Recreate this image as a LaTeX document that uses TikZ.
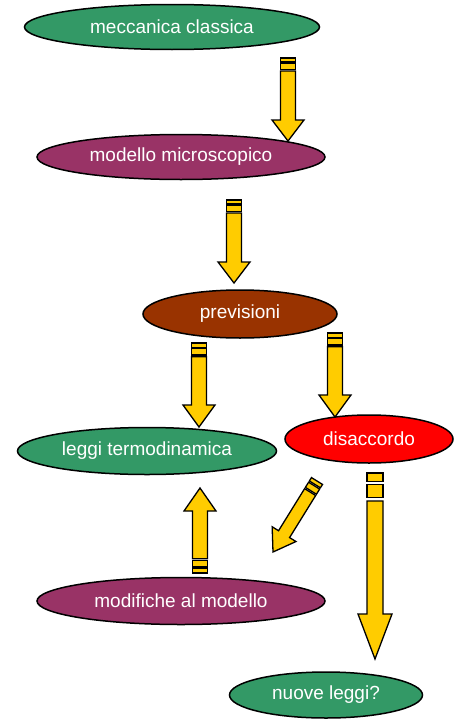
\documentclass[tikz,border=0pt]{standalone}
\usepackage{fontspec}
\setmainfont{Liberation Sans}
\usetikzlibrary{shapes.geometric,calc}

\definecolor{verde}{RGB}{51,153,102}
\definecolor{viola}{RGB}{153,51,102}
\definecolor{marrone}{RGB}{153,51,0}
\definecolor{oro}{RGB}{255,204,0}

% freccia a strisce: coda, punta, mezza larghezza asta, mezza larghezza punta, lunghezza punta
\newcommand{\stripedarrow}[5]{%
    \pgfmathsetmacro\sa{0.19*#5}
    \pgfmathsetmacro\sb{0.26*#5}
    \pgfmathsetmacro\sc{0.55*#5}
    \pgfmathsetmacro\sd{0.62*#5}
    \draw[freccia] ($(#1)!0pt!(#2)!#3pt!90:(#2)$) -- ($(#1)!\sa pt!(#2)!#3pt!90:(#2)$)
        -- ($(#1)!\sa pt!(#2)!#3pt!-90:(#2)$) -- ($(#1)!0pt!(#2)!#3pt!-90:(#2)$) -- cycle;
    \draw[freccia] ($(#1)!\sb pt!(#2)!#3pt!90:(#2)$) -- ($(#1)!\sc pt!(#2)!#3pt!90:(#2)$)
        -- ($(#1)!\sc pt!(#2)!#3pt!-90:(#2)$) -- ($(#1)!\sb pt!(#2)!#3pt!-90:(#2)$) -- cycle;
    \draw[freccia] ($(#1)!\sd pt!(#2)!#3pt!90:(#2)$)
        -- ($(#2)!#5pt!(#1)!#3pt!-90:(#1)$)
        -- ($(#2)!#5pt!(#1)!#4pt!-90:(#1)$)
        -- (#2)
        -- ($(#2)!#5pt!(#1)!#4pt!90:(#1)$)
        -- ($(#2)!#5pt!(#1)!#3pt!90:(#1)$)
        -- ($(#1)!\sd pt!(#2)!#3pt!-90:(#2)$) -- cycle;
}

\begin{document}
\begin{tikzpicture}[x=1pt, y=-1pt,
    every node/.style={
        draw=black,
        line width=1.5pt,
        ellipse,
        inner sep=0pt,
        text=white,
        font=\fontsize{19}{21}\selectfont},
    freccia/.style={
        draw=black,
        fill=oro,
        line width=1.3pt,
        line join=miter}]

    \useasboundingbox (0,0) rectangle (459,720);

    \node[fill=verde, minimum width=295pt, minimum height=45pt] (mecc) at (172,27) {meccanica classica};
    \node[fill=viola, minimum width=288pt, minimum height=45pt] (micro) at (181,157) {modello microscopico};
    \node[fill=marrone, minimum width=194pt, minimum height=48pt] (prev) at (240,314) {previsioni};
    \node[fill=verde, minimum width=259pt, minimum height=47pt] (leggi) at (147,451) {leggi termodinamica};
    \node[fill=red, minimum width=168pt, minimum height=48pt] (disacc) at (369,439) {disaccordo};
    \node[fill=viola, minimum width=288pt, minimum height=47pt] (modif) at (181,601) {modifiche al modello};
    \node[fill=verde, minimum width=193pt, minimum height=46pt] (nuove) at (326,695) {nuove leggi?};

    % code e punte delle frecce
    \coordinate (c1) at (288,58);   \coordinate (p1) at (288,141);
    \coordinate (c2) at (234,200);  \coordinate (p2) at (234,283);
    \coordinate (c3) at (199,343);  \coordinate (p3) at (199,427);
    \coordinate (c4) at (335,333);  \coordinate (p4) at (335,417);
    \coordinate (c5) at (317,481);  \coordinate (p5) at (273,552);
    \coordinate (c6) at (200,573);  \coordinate (p6) at (200,488);
    \coordinate (c7) at (375,473);  \coordinate (p7) at (375,659);

    \stripedarrow{c1}{p1}{7.5}{16}{21}
    \stripedarrow{c2}{p2}{7.5}{16}{21}
    \stripedarrow{c3}{p3}{7.5}{16}{22}
    \stripedarrow{c4}{p4}{7.5}{16}{22}
    \stripedarrow{c5}{p5}{6.5}{14}{21}
    \stripedarrow{c6}{p6}{7.5}{16}{23}
    \stripedarrow{c7}{p7}{8}{17}{45}
\end{tikzpicture}
\end{document}
